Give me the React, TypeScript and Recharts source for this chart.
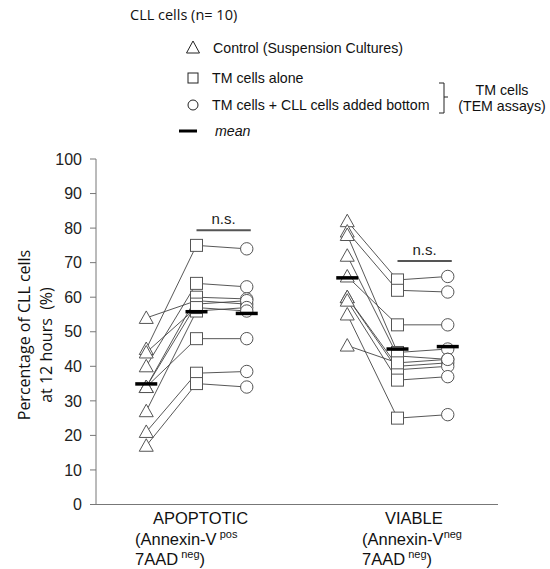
import { ComposedChart, Scatter, XAxis, YAxis, ReferenceLine } from 'recharts'

// x positions of the three conditions in each group
const apoX = [1, 2, 3]
const viaX = [5, 6, 7]

// apoptotic (Annexin-V pos / 7AAD neg), one entry per patient
const apoControl = [45, 40, 54, 34, 34, 27, 44, 34, 21, 17]
const apoTmAlone = [75, 64, 59, 60, 58, 56, 57, 48, 38, 35]
const apoTmCll = [74, 63, 58, 59.5, 59, 57, 56, 48, 38.5, 34]
const apoMeans = [34.9, 55.8, 55.3]

// viable (Annexin-V neg / 7AAD neg)
const viaControl = [82, 79, 78, 72, 66, 60, 60, 46, 55, 59]
const viaTmAlone = [65, 62, 44, 43, 52, 40, 39, 41, 25, 36]
const viaTmCll = [66, 61.5, 45, 42, 52, 41, 40, 42, 26, 37]
const viaMeans = [65.6, 45.0, 45.7]

const nsLevels = [79.4, 70.5]
const yTicks = [0, 10, 20, 30, 40, 50, 60, 70, 80, 90, 100]
const groupTicks = [2, 6]
const groupNames = ['APOPTOTIC', 'VIABLE']
const annexinSup = [' pos', 'neg']

const MARK = '#555'
const LINE = '#444'

const patientLines = (xs: number[], a: number[], b: number[], c: number[]) =>
    a.map((_, i) => [
        { x: xs[0], y: a[i] },
        { x: xs[1], y: b[i] },
        { x: xs[2], y: c[i] },
    ])

const points = (x1: number, v1: number[], x2: number, v2: number[]) => [
    ...v1.map(y => ({ x: x1, y })),
    ...v2.map(y => ({ x: x2, y })),
]

const Nothing = () => <g />

const Triangle = (p: any) => (
    <polygon
        points={`${p.cx},${p.cy - 7} ${p.cx - 7},${p.cy + 5.5} ${p.cx + 7},${p.cy + 5.5}`}
        fill="#fff"
        stroke={MARK}
        strokeWidth={1}
    />
)
const Square = (p: any) => (
    <rect x={p.cx - 6} y={p.cy - 6} width={12} height={12} fill="#fff" stroke={MARK} strokeWidth={1} />
)
const Circle = (p: any) => <circle cx={p.cx} cy={p.cy} r={6.2} fill="#fff" stroke={MARK} strokeWidth={1} />
const MeanBar = (p: any) => (
    <line x1={p.cx - 11} x2={p.cx + 11} y1={p.cy} y2={p.cy} stroke="#000" strokeWidth={3.5} />
)

function GroupTick({ x, y, payload }: any) {
    const i = payload.value === groupTicks[0] ? 0 : 1
    const titleDx = i === 0 ? -43.5 : -12.5
    const lineDx = i === 0 ? -61.5 : -35.5
    const font = { fontFamily: '"Liberation Sans", Arial, sans-serif', fill: '#111', fontSize: 16.5 }
    return (
        <g>
            <text x={x + titleDx} y={y + 19.5} {...font}>{groupNames[i]}</text>
            <text x={x + lineDx} y={y + 40} {...font} style={{ whiteSpace: 'pre' }}>
                (Annexin-V<tspan fontSize={11} dy={-7}>{annexinSup[i]}</tspan>
            </text>
            <text x={x + lineDx} y={y + 60} {...font} style={{ whiteSpace: 'pre' }}>
                7AAD<tspan fontSize={11} dy={-7}> neg</tspan><tspan dy={7}>)</tspan>
            </text>
        </g>
    )
}

export default function App() {
    const apoLines = patientLines(apoX, apoControl, apoTmAlone, apoTmCll)
    const viaLines = patientLines(viaX, viaControl, viaTmAlone, viaTmCll)
    const meanPoints = [
        ...apoMeans.map((y, i) => ({ x: apoX[i], y })),
        ...viaMeans.map((y, i) => ({ x: viaX[i], y })),
    ]
    const arial = '"Liberation Sans", Arial, sans-serif'
    const humanist = '"Open Sans", "Noto Sans", sans-serif'

    return (
        <div style={{ position: 'absolute', left: 0, top: 0, width: 550, height: 569, background: '#fff' }}>
            <ComposedChart width={550} height={569} margin={{ top: 159, right: 52, bottom: 4.5, left: 36 }}>
                <XAxis
                    type="number"
                    dataKey="x"
                    domain={[0, 8]}
                    ticks={groupTicks}
                    tick={<GroupTick />}
                    tickLine={false}
                    tickSize={0}
                    tickMargin={0}
                    axisLine={{ stroke: '#777' }}
                    height={60}
                    interval={0}
                />
                <YAxis
                    type="number"
                    dataKey="y"
                    domain={[0, 100]}
                    ticks={yTicks}
                    width={60}
                    tickSize={6}
                    tickMargin={8}
                    interval={0}
                    axisLine={{ stroke: '#777' }}
                    tickLine={{ stroke: '#777' }}
                    tick={{ fontSize: 16, fill: '#222', fontFamily: arial }}
                />
                {apoLines.map((d, i) => (
                    <Scatter key={`a${i}`} data={d} line={{ stroke: LINE, strokeWidth: 0.9 }} shape={Nothing} isAnimationActive={false} />
                ))}
                {viaLines.map((d, i) => (
                    <Scatter key={`v${i}`} data={d} line={{ stroke: LINE, strokeWidth: 0.9 }} shape={Nothing} isAnimationActive={false} />
                ))}
                <Scatter data={points(apoX[0], apoControl, viaX[0], viaControl)} shape={Triangle} isAnimationActive={false} />
                <Scatter data={points(apoX[1], apoTmAlone, viaX[1], viaTmAlone)} shape={Square} isAnimationActive={false} />
                <Scatter data={points(apoX[2], apoTmCll, viaX[2], viaTmCll)} shape={Circle} isAnimationActive={false} />
                <Scatter data={meanPoints} shape={MeanBar} isAnimationActive={false} />
                <ReferenceLine
                    segment={[{ x: apoX[1], y: nsLevels[0] }, { x: apoX[2] + 0.08, y: nsLevels[0] }]}
                    stroke="#555"
                    strokeWidth={2}
                    label={{ value: 'n.s.', position: 'top', offset: 6, fontSize: 15, fill: '#222', fontFamily: arial }}
                />
                <ReferenceLine
                    segment={[{ x: viaX[1], y: nsLevels[1] }, { x: viaX[2] + 0.08, y: nsLevels[1] }]}
                    stroke="#555"
                    strokeWidth={2}
                    label={{ value: 'n.s.', position: 'top', offset: 6, fontSize: 15, fill: '#222', fontFamily: arial }}
                />
            </ComposedChart>

            <svg width={550} height={569} style={{ position: 'absolute', left: 0, top: 0, pointerEvents: 'none' }}>
                <text x={130} y={20} fontSize={14.5} fontFamily={humanist} fill="#111">CLL cells (n= 10)</text>

                <polygon points="193,41 186.5,53 199.5,53" fill="#fff" stroke="#222" strokeWidth={1} />
                <text x={213} y={53} fontSize={14.2} fontFamily={arial} fill="#111">Control (Suspension Cultures)</text>

                <rect x={188} y={73} width={10} height={10} fill="#fff" stroke="#222" strokeWidth={1} />
                <text x={212} y={83} fontSize={14.2} fontFamily={arial} fill="#111">TM cells alone</text>

                <circle cx={193} cy={105} r={5} fill="#fff" stroke="#222" strokeWidth={1} />
                <text x={212} y={110} fontSize={14.2} fontFamily={arial} fill="#111">TM cells + CLL cells added bottom</text>

                <line x1={179} x2={197} y1={131} y2={131} stroke="#000" strokeWidth={3} />
                <text x={215} y={136} fontSize={14.2} fontStyle="italic" fontFamily={arial} fill="#111">mean</text>

                <polyline points="439,83 444,83 444,113 439,113" fill="none" stroke="#222" strokeWidth={1} />
                <line x1={444} x2={448} y1={97} y2={97} stroke="#222" strokeWidth={1} />
                <text x={502} y={95} fontSize={14.2} fontFamily={arial} fill="#111" textAnchor="middle">TM cells</text>
                <text x={502} y={111} fontSize={14.2} fontFamily={arial} fill="#111" textAnchor="middle">(TEM assays)</text>

                <g transform="translate(30, 335) rotate(-90)">
                    <text x={0} y={0} fontSize={16} fontFamily={humanist} fill="#111" textAnchor="middle">Percentage of CLL cells</text>
                </g>
                <g transform="translate(52, 345) rotate(-90)">
                    <text x={0} y={0} fontSize={16} fontFamily={humanist} fill="#111" textAnchor="middle">{'at 12 hours\u00a0 (%)'}</text>
                </g>
            </svg>
        </div>
    )
}
